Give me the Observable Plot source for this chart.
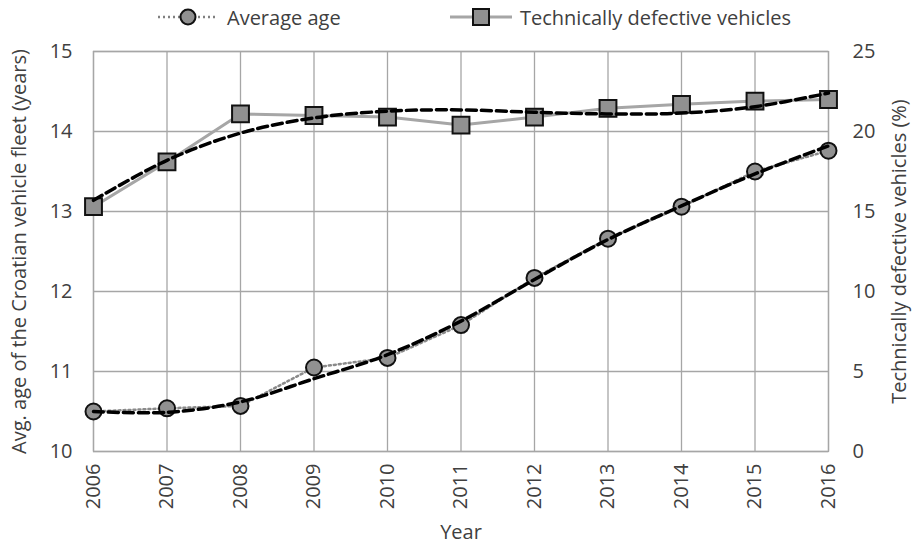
<!DOCTYPE html>
<html>
<head>
<meta charset="utf-8">
<script src="https://cdn.jsdelivr.net/npm/d3@7"></script>
<script src="https://cdn.jsdelivr.net/npm/@observablehq/plot@0.6"></script>
<style>
  body { margin: 0; background: #fff; font-family: "Open Sans", sans-serif; }
  #legend { position: relative; height: 36px; width: 914px; color: #404040; font-size: 20px; }
  #legend .item { position: absolute; top: 3px; display: flex; align-items: center; height: 28px; }
  #legend svg { display: block; }
</style>
</head>
<body>
<div id="legend">
  <div class="item" style="left:157px">
    <svg width="60" height="24"><line x1="1" y1="12" x2="59" y2="12" stroke="#808080" stroke-width="2.5" stroke-dasharray="2,3"/><circle cx="31" cy="12" r="7.5" fill="#909090" stroke="#111" stroke-width="2"/></svg>
    <span style="margin-left:10px">Average age</span>
  </div>
  <div class="item" style="left:450px">
    <svg width="62" height="24"><line x1="0" y1="12" x2="62" y2="12" stroke="#a6a6a6" stroke-width="3"/><rect x="23" y="4" width="16" height="16" fill="#909090" stroke="#111" stroke-width="2"/></svg>
    <span style="margin-left:8px">Technically defective vehicles</span>
  </div>
</div>
<div id="chart"></div>
<script>
const years = [2006, 2007, 2008, 2009, 2010, 2011, 2012, 2013, 2014, 2015, 2016];
const avgAge = [10.50, 10.54, 10.57, 11.05, 11.17, 11.58, 12.17, 12.66, 13.06, 13.50, 13.76];
const defective = [15.3, 18.1, 21.1, 21.0, 20.9, 20.4, 20.9, 21.45, 21.7, 21.9, 22.0];
const ageTrend = [10.50, 10.49, 10.62, 10.91, 11.21, 11.63, 12.15, 12.65, 13.07, 13.47, 13.82];
const defTrend = [15.7, 18.2, 19.9, 20.85, 21.27, 21.35, 21.2, 21.1, 21.15, 21.55, 22.4];
const leftTicks = [10, 11, 12, 13, 14, 15];
const rightTicks = [0, 5, 10, 15, 20, 25];

// right axis (%) mapped onto the left axis (years): 0..25 % -> 10..15
const pctToAge = p => 10 + p / 5;

const ageData = years.map((y, i) => ({year: y, v: avgAge[i]}));
const defData = years.map((y, i) => ({year: y, v: pctToAge(defective[i])}));
const ageTrendData = years.map((y, i) => ({year: y, v: ageTrend[i]}));
const defTrendData = years.map((y, i) => ({year: y, v: pctToAge(defTrend[i])}));

const textColor = "#404040";
const gridColor = "#a6a6a6";

const chart = Plot.plot({
  width: 914,
  height: 511,
  marginTop: 15,
  marginBottom: 96,
  marginLeft: 93,
  marginRight: 86,
  style: {fontFamily: "Open Sans, sans-serif", fontSize: "19.5px", color: textColor, background: "#fff"},
  x: {domain: [2006, 2016]},
  y: {domain: [10, 15]},
  marks: [
    Plot.gridX(years, {stroke: gridColor, strokeOpacity: 1, strokeWidth: 1.3}),
    Plot.gridY(leftTicks, {stroke: gridColor, strokeOpacity: 1, strokeWidth: 1.3}),
    Plot.frame({stroke: gridColor, strokeWidth: 1.3}),
    Plot.axisX(years, {
      tickFormat: d => String(d), tickRotate: -90, tickSize: 0, tickPadding: 12,
      fill: textColor, fontSize: 20,
      label: "Year", labelAnchor: "center", labelArrow: "none", labelOffset: 87
    }),
    Plot.axisY(leftTicks, {
      anchor: "left", tickSize: 0, tickPadding: 21, fill: textColor, fontSize: 20,
      tickFormat: d => String(d),
      label: "Avg. age of the Croatian vehicle fleet (years)", labelAnchor: "center", labelArrow: "none", labelOffset: 82
    }),
    Plot.axisY(rightTicks.map(pctToAge), {
      anchor: "right", tickSize: 0, tickPadding: 24, fill: textColor, fontSize: 20,
      tickFormat: d => String(Math.round((d - 10) * 5)),
      label: "Technically defective vehicles (%)", labelAnchor: "center", labelArrow: "none", labelOffset: 77
    }),
    Plot.line(defData, {x: "year", y: "v", stroke: "#a6a6a6", strokeWidth: 3}),
    Plot.dot(defData, {x: "year", y: "v", symbol: "square", r: 9.5, fill: "#919191", stroke: "#111", strokeWidth: 2}),
    Plot.line(ageData, {x: "year", y: "v", stroke: "#8a8a8a", strokeWidth: 2.5, strokeDasharray: "2,3"}),
    Plot.dot(ageData, {x: "year", y: "v", r: 8, fill: "#919191", stroke: "#111", strokeWidth: 2}),
    Plot.line(defTrendData, {x: "year", y: "v", curve: "catmull-rom", stroke: "#000", strokeWidth: 3.5, strokeDasharray: "10,5"}),
    Plot.line(ageTrendData, {x: "year", y: "v", curve: "catmull-rom", stroke: "#000", strokeWidth: 3.5, strokeDasharray: "10,5"})
  ]
});
document.getElementById("chart").appendChild(chart);
</script>
</body>
</html>
